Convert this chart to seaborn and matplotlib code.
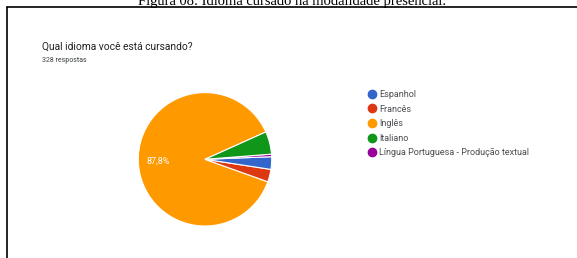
import matplotlib
matplotlib.use("Agg")
import matplotlib.pyplot as plt
from matplotlib.lines import Line2D
import seaborn as sns

# dados (ordem da legenda)
idiomas = ["Espanhol", "Francês", "Inglês", "Italiano",
           "Língua Portuguesa - Produção textual"]
respostas = [10, 10, 288, 18, 2]
cores = ["#3366cc", "#dc3912", "#ff9900", "#109618", "#990099"]
# ordem em que as fatias aparecem no gráfico (sentido anti-horário)
ordem_fatias = [2, 1, 0, 4, 3]

titulo = "Qual idioma você está cursando?"
subtitulo = "328 respostas"
legenda_figura = "Figura 08: Idioma cursado na modalidade presencial."

sns.set_theme(style="white")
plt.rcParams["font.family"] = ["Roboto", "DejaVu Sans"]

W, H = 577, 258
fig = plt.figure(figsize=(W / 100, H / 100), dpi=100)
fig.patch.set_facecolor("white")

# moldura (linha superior e esquerda)
fig.add_artist(Line2D([7 / W, 1], [1 - 7 / H, 1 - 7 / H], color="black", lw=1.2))
fig.add_artist(Line2D([7 / W, 7 / W], [0, 1 - 7 / H], color="black", lw=1.2))

# legenda da figura (cortada no topo, como na imagem original)
fig.text(292 / W, 1 - 5 / H, legenda_figura, ha="center", va="baseline",
         fontsize=10.5, family=["Liberation Serif", "DejaVu Serif"], color="black")

fig.text(42 / W, 1 - 50 / H, titulo, ha="left", va="baseline",
         fontsize=7.4, color="#202124")
fig.text(42 / W, 1 - 62 / H, subtitulo, ha="left", va="baseline",
         fontsize=5.0, color="#3c4043")

# pizza
cx, cy, r = 205, 159.3, 66.7
ax = fig.add_axes([(cx - r) / W, (H - cy - r) / H, 2 * r / W, 2 * r / H])
valores = [respostas[i] for i in ordem_fatias]


def fmt_pct(p):
    return f"{p:.1f}%".replace(".", ",") if p > 10 else ""


wedges, textos, autotextos = ax.pie(
    valores,
    colors=[cores[i] for i in ordem_fatias],
    startangle=24.2,
    counterclock=True,
    autopct=fmt_pct,
    pctdistance=0.70,
    wedgeprops=dict(edgecolor="white", linewidth=0.8),
    textprops=dict(color="white", fontsize=6.5),
)
ax.set_xlim(-1, 1)
ax.set_ylim(-1, 1)
ax.set_aspect("equal")
ax.axis("off")

# legenda
handles = [Line2D([], [], marker="o", linestyle="", markersize=6,
                  markerfacecolor=c, markeredgecolor=c) for c in cores]
leg = fig.legend(handles, idiomas, loc="upper left",
                 bbox_to_anchor=(367.5 / W, 1 - 90 / H), frameon=False,
                 fontsize=6.5, labelspacing=0.62, handlelength=0.9,
                 handletextpad=0.35, borderaxespad=0, borderpad=0)
for t in leg.get_texts():
    t.set_color("#4a4d51")

fig.savefig("out.png", dpi=100, facecolor="white")
